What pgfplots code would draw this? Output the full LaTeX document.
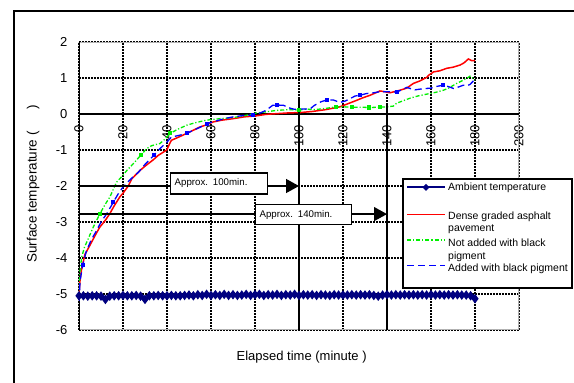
\documentclass[border=0pt]{standalone}
\usepackage{pgfplots}
\pgfplotsset{compat=1.18}
\usepackage{fontspec}
\setmainfont{Liberation Sans}
\usetikzlibrary{arrows.meta}
\definecolor{navyc}{RGB}{0,0,128}
\definecolor{grn}{RGB}{0,240,0}
\definecolor{blu}{RGB}{0,0,255}
\begin{document}
\begin{tikzpicture}[x=1pt,y=1pt]
\useasboundingbox (0,0) rectangle (574,383);
\fill[white] (0,0) rectangle (574,383);
\draw[line width=1.8pt] (14,-5) -- (14,372) -- (580,372);
\begin{axis}[
  at={(79pt,53pt)}, anchor=south west,
  width=440pt, height=288pt, scale only axis,
  xmin=0, xmax=200, ymin=-6, ymax=2,
  axis x line=middle, axis y line=left,
  axis line style={draw=none,-},
  hide obscured x ticks=false, hide obscured y ticks=false,
  xtick={0,20,...,200}, ytick={-6,-5,...,2},
  major tick length=0pt,
  grid=major,
  major grid style={black, line width=1.1pt, dash pattern=on 2pt off 1pt},
  /pgf/number format/assume math mode=true,
  ticklabel style={font=\fontsize{13}{15}\selectfont},
  xticklabel style={rotate=90, anchor=east, inner xsep=11pt},
  yticklabel style={anchor=east, xshift=-8pt},
  xlabel={Elapsed time (minute )},
  ylabel={Surface temperature (\hspace{1.6em})},
  xlabel style={font=\fontsize{13}{15}\selectfont, at={(axis description cs:0.506,-0.095)}, anchor=center},
  ylabel style={font=\fontsize{13.5}{15}\selectfont, at={(axis description cs:-0.1045,0.507)}, anchor=center},
]
\draw[gray!60, line width=1.4pt] (rel axis cs:0,0) -- (rel axis cs:1,0) -- (rel axis cs:1,1) -- (rel axis cs:0,1);
\draw[black, line width=1.6pt] (axis cs:0,-6) -- (axis cs:0,2);
\draw[black, line width=1.6pt] (axis cs:0,0) -- (axis cs:200,0);

\addplot[navyc, line width=2.2pt, mark=diamond*, mark size=3pt] coordinates {
(0,-5.05) (2,-5.05) (4,-5.06) (6,-5.05) (8,-5.05) (10,-5.06) (12,-5.15) (14,-5.06) (16,-5.05) (18,-5.05)
(20,-5.04) (22,-5.05) (24,-5.05) (26,-5.04) (28,-5.06) (30,-5.15) (32,-5.05) (34,-5.05) (36,-5.04) (38,-5.05)
(40,-5.05) (42,-5.04) (44,-5.05) (46,-5.05) (48,-5.04) (50,-5.03) (52,-5.05) (54,-5.02) (56,-5.04) (58,-5.01)
(60,-5.04) (62,-5.02) (64,-5.04) (66,-5.01) (68,-5.04) (70,-5.02) (72,-5.04) (74,-5.03) (76,-5.01) (78,-5.04)
(80,-5.02) (82,-5.01) (84,-5.04) (86,-5.02) (88,-5.03) (90,-5.01) (92,-5.04) (94,-5.02) (96,-5.03) (98,-5.01)
(100,-5.04) (102,-5.02) (104,-5.03) (106,-5.02) (108,-5.04) (110,-5.02) (112,-5.03) (114,-5.04) (116,-5.02) (118,-5.03)
(120,-5.03) (122,-5.03) (124,-5.02) (126,-5.03) (128,-5.02) (130,-5.03) (132,-5.02) (134,-5.04) (136,-5.06) (138,-5.03)
(140,-5.02) (142,-5.03) (144,-5.02) (146,-5.03) (148,-5.02) (150,-5.03) (152,-5.02) (154,-5.03) (156,-5.02) (158,-5.03)
(160,-5.02) (162,-5.03) (164,-5.02) (166,-5.03) (168,-5.02) (170,-5.03) (172,-5.02) (174,-5.03) (176,-5.03) (178,-5.05)
(180,-5.13)};

\addplot[red, line width=1.5pt, mark=none] coordinates {
(0,-5.0) (0.5,-4.6) (1.2,-4.3) (2.7,-3.9) (4.5,-3.7) (6.5,-3.47) (8,-3.3) (9.5,-3.14) (12,-2.95) (14,-2.77)
(16,-2.55) (18.6,-2.3) (20,-2.2) (22.4,-2.0) (24,-1.8) (27.7,-1.57) (30,-1.45) (33.8,-1.27) (36,-1.15) (39.9,-1.0)
(41,-0.85) (42,-0.73) (45,-0.65) (48.9,-0.54) (52,-0.45) (55,-0.36) (58,-0.3) (61,-0.22) (65,-0.17) (70,-0.13)
(75,-0.08) (80.7,-0.05) (85,-0.01) (89.8,0.01) (95,0.03) (100.5,0.04) (106,0.07) (112,0.12) (118.6,0.2) (122,0.28)
(126.2,0.38) (129,0.45) (132.3,0.52) (136.8,0.64) (139,0.62) (141.4,0.59) (145.9,0.66) (149,0.72) (152,0.85) (155,0.92)
(158.1,1.02) (159,1.08) (161.2,1.17) (164,1.2) (167.2,1.27) (170,1.3) (173.2,1.36) (175,1.42) (177,1.53) (178.5,1.48) (180,1.48)};

\addplot[grn, line width=1.3pt, dash pattern=on 4pt off 2pt on 1.2pt off 2pt, mark=square*, mark size=1.4pt, mark options={solid}, mark indices={7,14,19,31,36,38,40,41}] coordinates {
(0,-4.9) (0.5,-4.35) (1.2,-3.98) (2.5,-3.7) (3.8,-3.52) (6.5,-3.14) (9.5,-2.77) (12,-2.5) (14,-2.31) (17,-1.9)
(20,-1.7) (22,-1.55) (24.7,-1.38) (28,-1.15) (30.8,-0.96) (33,-0.88) (36.8,-0.82) (39,-0.7) (41.4,-0.54) (45,-0.42)
(49,-0.31) (53,-0.24) (58,-0.17) (64,-0.13) (70,-0.1) (75,-0.05) (80.7,0.03) (85,0.06) (89.8,0.1) (95,0.12)
(100,0.11) (103.5,0.14) (106.5,0.12) (110,0.14) (112.6,0.16) (117,0.2) (120,0.2) (124,0.19) (127.7,0.19) (132,0.18)
(136.8,0.19) (140,0.2) (142.9,0.22) (144.4,0.3) (147,0.36) (150.5,0.44) (154,0.5) (159.5,0.57) (162,0.6) (165.6,0.66)
(168,0.72) (171.7,0.85) (174,0.92) (176.2,0.99) (177.7,1.05) (179,1.0) (180,0.94)};

\addplot[blu, line width=1.3pt, dash pattern=on 7pt off 4pt, mark=square*, mark size=1.4pt, mark options={solid}, mark indices={3,9,16,21,24,29,33,41,47,52,61}] coordinates {
(0,-5.2) (0.5,-4.63) (1.7,-4.2) (3.2,-3.84) (5.5,-3.5) (8,-3.24) (10,-3.0) (12.6,-2.77) (15.6,-2.45) (18,-2.2)
(20,-2.03) (22,-1.9) (24,-1.78) (27,-1.62) (30,-1.4) (34,-1.15) (37,-0.95) (40,-0.78) (42,-0.64) (45,-0.6)
(49,-0.54) (52,-0.45) (55,-0.37) (58,-0.27) (62,-0.2) (66,-0.13) (70,-0.08) (75,-0.04) (79,-0.03) (82,0.02)
(85,0.1) (88,0.24) (90,0.25) (93,0.24) (96,0.16) (98,0.13) (101,0.14) (105,0.14) (107,0.24) (110,0.34)
(112.6,0.39) (115.6,0.39) (118.6,0.32) (121,0.36) (123,0.42) (125.5,0.5) (127.7,0.52) (130.8,0.57) (133,0.58) (136.8,0.62)
(140,0.62) (144.4,0.61) (147,0.68) (149,0.74) (151,0.7) (152.7,0.67) (156,0.7) (158,0.71) (160,0.72) (162,0.76)
(165.6,0.8) (168,0.76) (170.2,0.71) (172.5,0.75) (174.7,0.8) (176.5,0.79) (177.7,0.82) (179,0.9) (180,0.99)};

% annotations
\draw[black, line width=1.6pt] (axis cs:100,-6) -- (axis cs:100,0.43);
\draw[black, line width=1.6pt] (axis cs:140,-6) -- (axis cs:140,0.31);
\draw[black, line width=1.4pt] (axis cs:0,-2) -- (axis cs:41.4,-2);
\draw[black, line width=1.4pt, -{Triangle[length=13pt,width=14pt]}] (axis cs:85.5,-2) -- (axis cs:100,-2);
\draw[black, line width=1.4pt] (axis cs:0,-2.78) -- (axis cs:80,-2.78);
\draw[black, line width=1.4pt, -{Triangle[length=13pt,width=14pt]}] (axis cs:123.6,-2.78) -- (axis cs:140,-2.78);
\node[draw=black, line width=1.2pt, fill=white, anchor=west, minimum width=97pt, minimum height=21pt, text width=89pt, inner xsep=4pt, align=left, font=\fontsize{9.7}{11}\selectfont] at (axis cs:41.4,-1.93) {Approx. 100min.};
\node[draw=black, line width=1.2pt, fill=white, anchor=west, minimum width=96pt, minimum height=20pt, text width=88pt, inner xsep=4pt, align=left, font=\fontsize{9.7}{11}\selectfont] at (axis cs:80,-2.8) {Approx. 140min.};
\end{axis}
% legend
\begin{scope}[font=\fontsize{10.5}{12.3}\selectfont]
\draw[line width=1.2pt, fill=white] (403,204) rectangle (572,95);
\draw[navyc, line width=2pt] (407,195.7) -- (445,195.7);
\fill[navyc] (426,199.2) -- (429.5,195.7) -- (426,192.2) -- (422.5,195.7) -- cycle;
\draw[red, line width=1.5pt] (407,168.7) -- (445,168.7);
\draw[grn, line width=1.2pt, dash pattern=on 4pt off 2pt on 1.2pt off 2pt] (407,143) -- (445,143);
\draw[blu, line width=1.2pt, dash pattern=on 7pt off 4pt] (407,117.3) -- (445,117.3);
\node[anchor=base west, inner sep=0pt] at (448,192.2) {Ambient temperature};
\node[anchor=base west, inner sep=0pt] at (448,163.5) {Dense graded asphalt};
\node[anchor=base west, inner sep=0pt] at (448,151.2) {pavement};
\node[anchor=base west, inner sep=0pt] at (448,136) {Not added with black};
\node[anchor=base west, inner sep=0pt] at (448,123.7) {pigment};
\node[anchor=base west, inner sep=0pt] at (448,111) {Added with black pigment};
\end{scope}
\end{tikzpicture}
\end{document}
